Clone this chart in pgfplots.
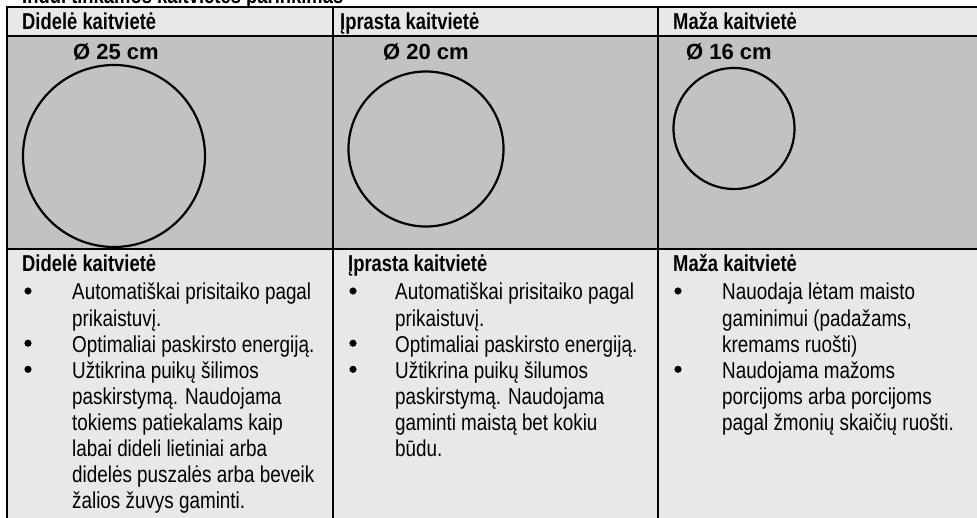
\documentclass[border=0pt]{standalone}
\usepackage{pgfplots}
\pgfplotsset{compat=1.18}
\usepackage{fontspec}
\setmainfont{Liberation Sans}[FakeStretch=0.82,BoldFeatures={FakeStretch=0.80}]
\newfontfamily\widefont{Liberation Sans}
\definecolor{lightbg}{HTML}{E8E8E8}
\definecolor{darkbg}{HTML}{C2C2C2}
\newcommand{\Ln}[3]{\node[anchor=base west,inner sep=0pt,font=\fontsize{23}{26}\selectfont] at (axis cs:#1,#2) {#3};}
\newcommand{\Hd}[3]{\node[anchor=base west,inner sep=0pt,font=\fontsize{23}{26}\selectfont\bfseries] at (axis cs:#1,#2) {#3};}
\newcommand{\Dm}[3]{\node[anchor=base,inner sep=0pt,font=\fontsize{22}{24}\selectfont\widefont\bfseries] at (axis cs:#1,#2) {#3};}
\begin{document}
\begin{tikzpicture}
\begin{axis}[width=977pt,height=518pt,scale only axis,
  xmin=0,xmax=977,ymin=0,ymax=518,y dir=reverse,
  axis lines=none,clip=true]
% backgrounds
\addplot[fill=lightbg,draw=none] coordinates {(7,7) (980,7) (980,520) (7,520)} -- cycle;
\addplot[fill=darkbg,draw=none] coordinates {(7,36) (980,36) (980,249) (7,249)} -- cycle;
% grid lines
\addplot[black,line width=1.5pt] coordinates {(7,7) (980,7)};
\addplot[black,line width=1.5pt] coordinates {(7,36) (980,36)};
\addplot[black,line width=1.5pt] coordinates {(7,249) (980,249)};
\addplot[black,line width=1.5pt] coordinates {(7,6.25) (7,520)};
\addplot[black,line width=1.5pt] coordinates {(333,7) (333,520)};
\addplot[black,line width=1.5pt] coordinates {(658,7) (658,520)};
% circles
\addplot[only marks,mark=o,mark size=91pt,mark options={line width=2.2pt,draw=black,fill=none}] coordinates {(114,156)};
\addplot[only marks,mark=o,mark size=77.5pt,mark options={line width=2.2pt,draw=black,fill=none}] coordinates {(426,149)};
\addplot[only marks,mark=o,mark size=60.5pt,mark options={line width=2.2pt,draw=black,fill=none}] coordinates {(734,128.5)};
% bullets
\addplot[only marks,mark=*,mark size=3.3pt,mark options={draw=black,fill=black}] coordinates {
 (28,291) (28,343.2) (28,369.3)
 (353,291) (353,343.2) (353,369.3)
 (678,291) (678,369.3)};
% title (cut off at the top, as in the source)
\Hd{22}{4}{Indui tinkamos kaitvietės parinkimas}
% headers
\Hd{22}{30}{Didelė kaitvietė}
\Hd{340}{30}{Įprasta kaitvietė}
\Hd{673}{30}{Maža kaitvietė}
% diameters
\Dm{116}{60}{Ø 25 cm}
\Dm{426}{60}{Ø 20 cm}
\Dm{729}{60}{Ø 16 cm}
% lower headers
\Hd{22}{272}{Didelė kaitvietė}
\Hd{348}{272}{Įprasta kaitvietė}
\Hd{673}{272}{Maža kaitvietė}
% column 1
\Ln{72}{300}{Automatiškai prisitaiko pagal}
\Ln{72}{326.1}{prikaistuvį.}
\Ln{72}{352.2}{Optimaliai paskirsto energiją.}
\Ln{72}{378.3}{Užtikrina puikų šilimos}
\Ln{72}{404.4}{paskirstymą. Naudojama}
\Ln{72}{430.5}{tokiems patiekalams kaip}
\Ln{72}{456.6}{labai dideli lietiniai arba}
\Ln{72}{482.7}{didelės puszalės arba beveik}
\Ln{72}{508.8}{žalios žuvys gaminti.}
% column 2
\Ln{395}{300}{Automatiškai prisitaiko pagal}
\Ln{395}{326.1}{prikaistuvį.}
\Ln{395}{352.2}{Optimaliai paskirsto energiją.}
\Ln{395}{378.3}{Užtikrina puikų šilumos}
\Ln{395}{404.4}{paskirstymą. Naudojama}
\Ln{395}{430.5}{gaminti maistą bet kokiu}
\Ln{395}{456.6}{būdu.}
% column 3
\Ln{722}{300}{Nauodaja lėtam maisto}
\Ln{722}{326.1}{gaminimui (padažams,}
\Ln{722}{352.2}{kremams ruošti)}
\Ln{722}{378.3}{Naudojama mažoms}
\Ln{722}{404.4}{porcijoms arba porcijoms}
\Ln{722}{430.5}{pagal žmonių skaičių ruošti.}
\end{axis}
\pgfresetboundingbox
\useasboundingbox (0,0) rectangle (977pt,518pt);
\end{tikzpicture}
\end{document}
